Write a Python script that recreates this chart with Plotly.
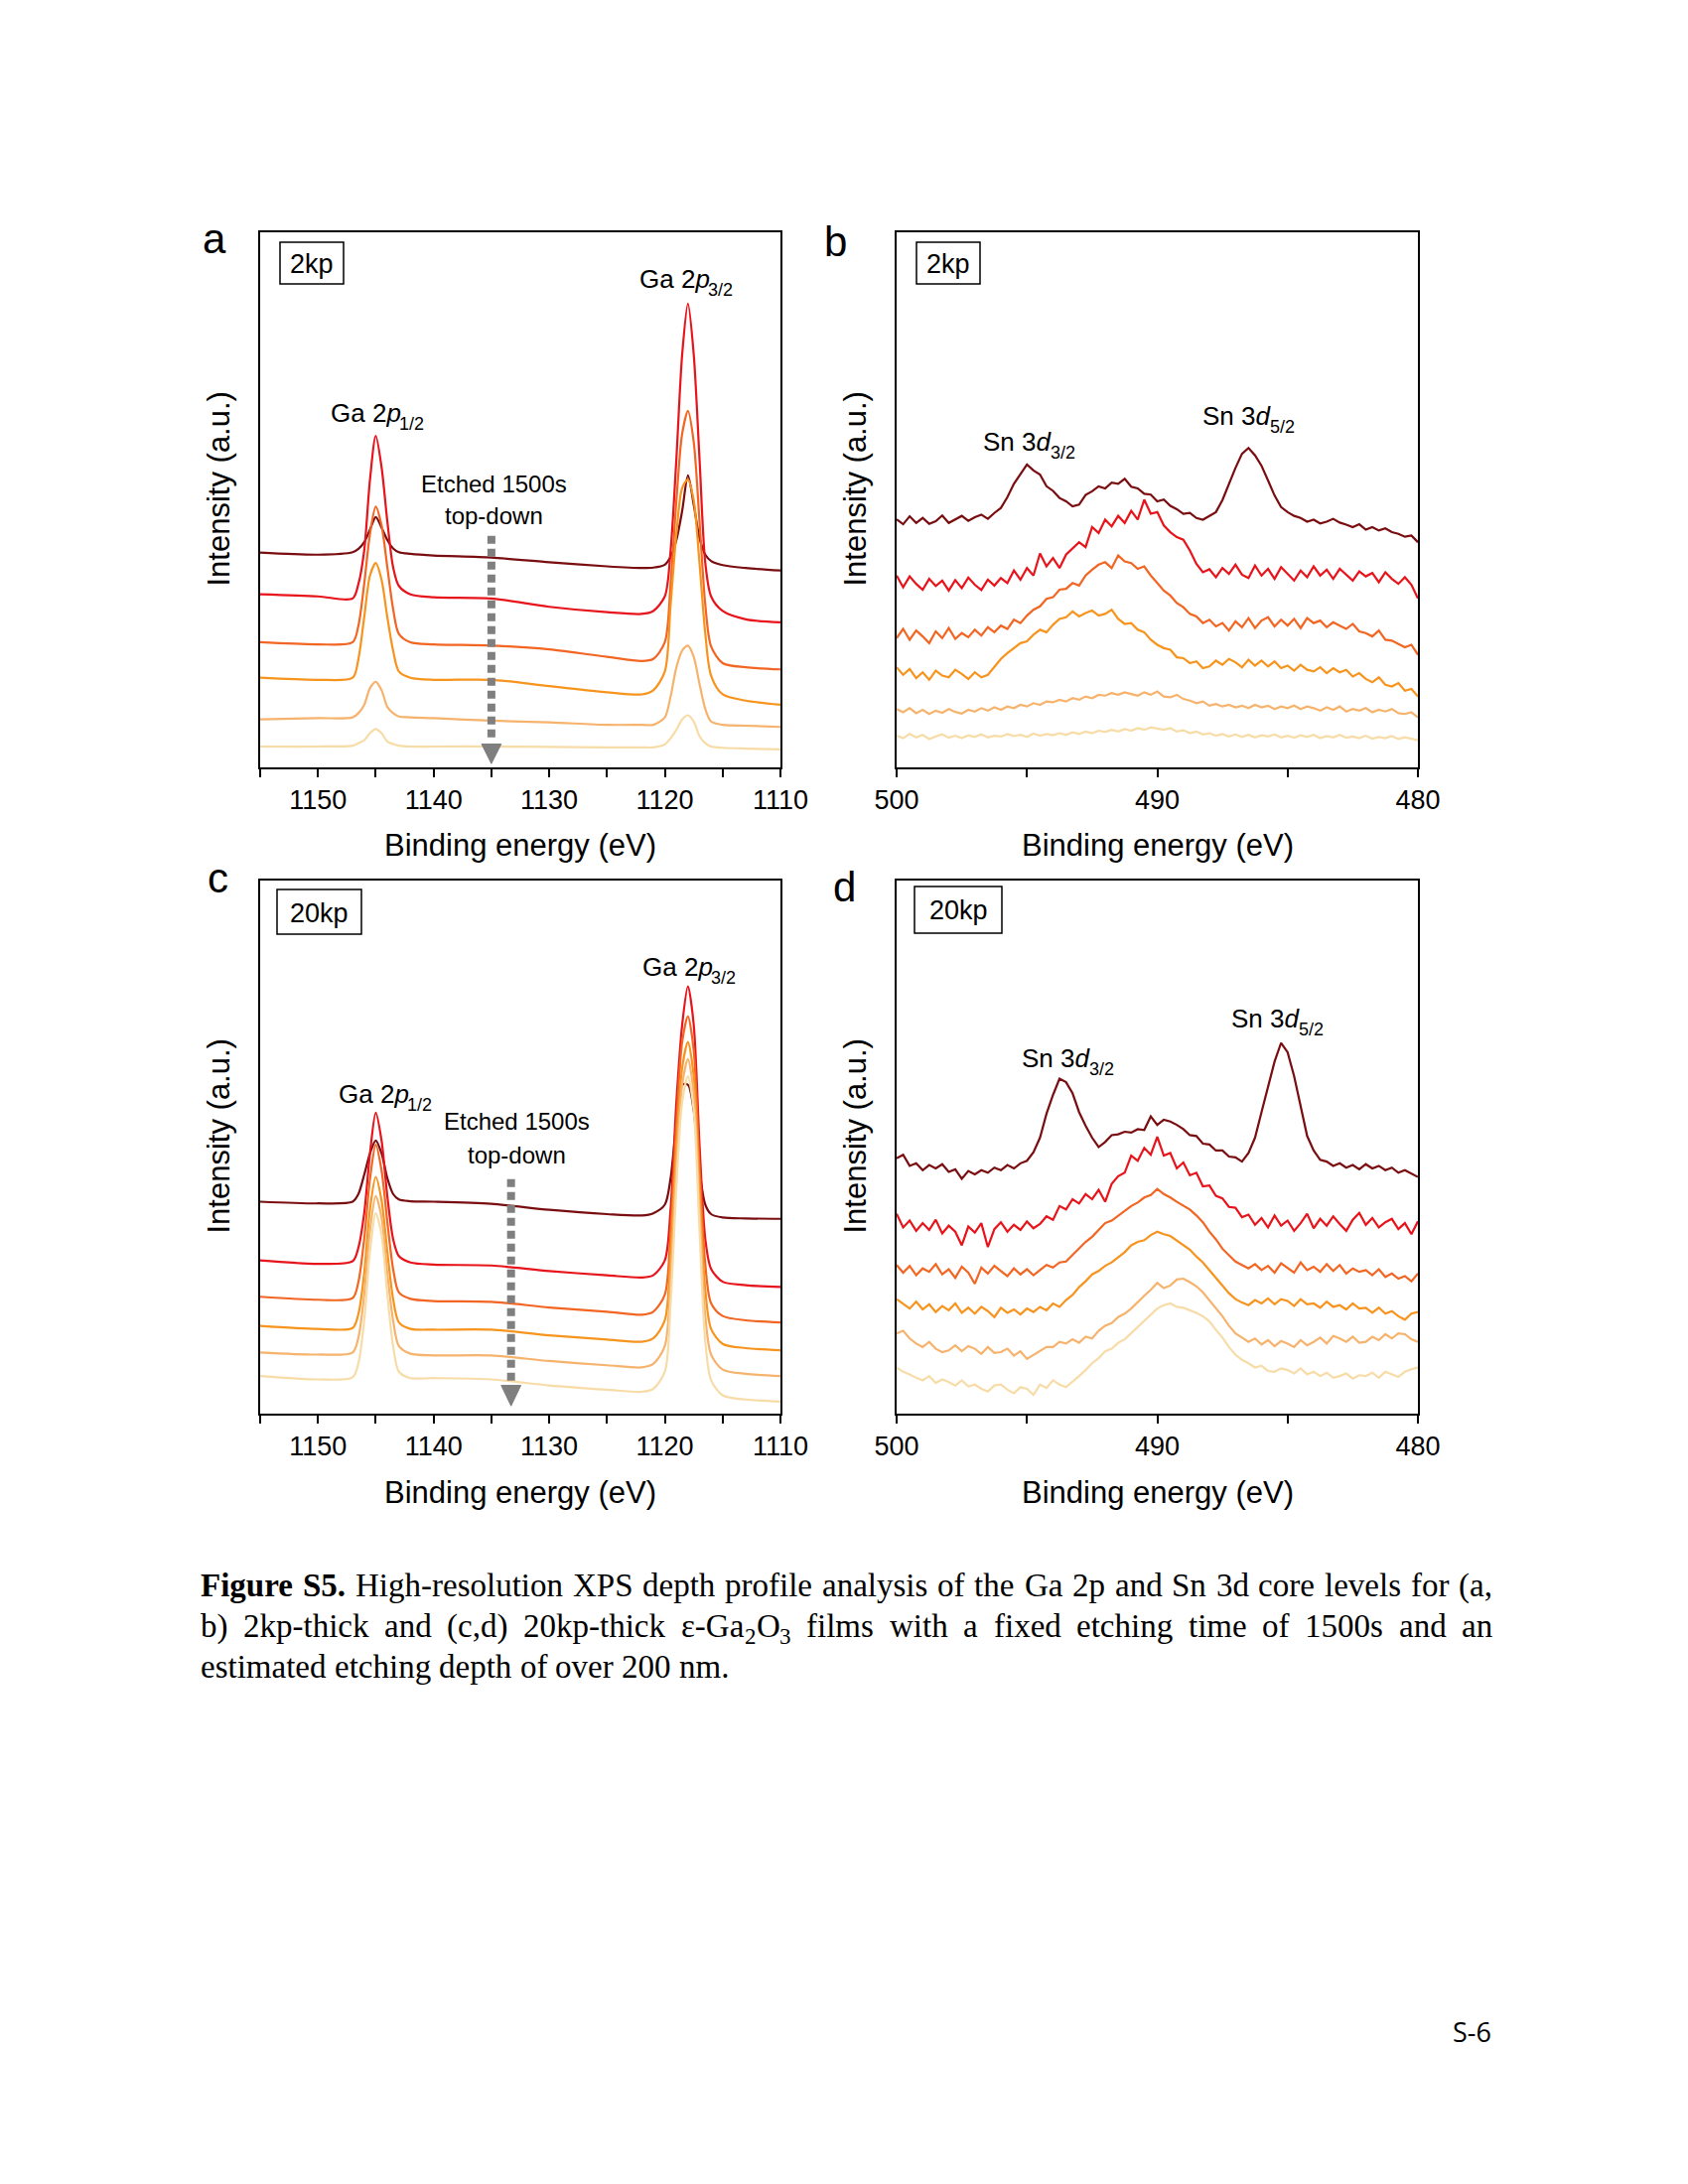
import re
import plotly.graph_objects as go

W, H = 1700, 2200


def px(x):
    return x / W


def py(y):
    return 1 - y / H


SANS = "Liberation Sans, Arial, sans-serif"
SERIF = "Liberation Serif, Times New Roman, serif"
COLORS = ["#7a0d10", "#e8141b", "#f26522", "#f7941e", "#f6b36d", "#f7dca8"]

# ---------------- Ga 2p (panels a, c) ----------------
GA_X = [1155, 1150, 1147, 1146.5, 1146, 1145.5, 1145, 1144.5, 1144, 1143.5, 1143, 1142, 1140, 1135,
        1130, 1125, 1122, 1121, 1120, 1119.5, 1119, 1118.5, 1118, 1117.5, 1117, 1116.5, 1116, 1115,
        1113, 1110]

A1 = [51.5, 51.0, 51.6, 52.4, 54.0, 57.0, 60.0, 57.5, 54.5, 52.5, 51.6, 51.2, 50.8, 50.3, 49.2,
      48.2, 47.8, 47.9, 48.6, 50.5, 54.5, 61.5, 70.0, 63.0, 55.0, 51.0, 49.5, 48.5, 47.8, 47.2]
A2 = [41.5, 41.0, 40.5, 44.0, 52.0, 69.0, 79.5, 72.0, 59.0, 48.0, 43.5, 41.5, 40.8, 40.5, 38.5,
      37.2, 36.8, 37.5, 41.0, 52.0, 74.0, 99.0, 111.2, 99.0, 74.0, 49.0, 41.0, 37.5, 35.5, 34.8]
A3 = [30.0, 29.5, 30.0, 34.0, 44.0, 56.0, 62.5, 58.0, 48.0, 38.0, 32.0, 30.0, 29.5, 29.2, 28.3,
      26.5, 25.5, 26.0, 30.0, 44.0, 64.0, 80.0, 85.5, 78.0, 59.0, 39.0, 29.0, 25.0, 24.0, 23.5]
A4 = [21.5, 21.0, 21.5, 26.0, 36.0, 46.0, 49.0, 45.0, 36.0, 28.0, 23.0, 21.5, 21.0, 21.0, 19.5,
      18.0, 17.5, 18.5, 23.0, 39.0, 56.0, 67.0, 69.0, 64.0, 49.0, 32.0, 22.0, 17.5, 16.0, 15.0]
A5 = [11.5, 11.8, 12.0, 13.0, 15.0, 19.0, 20.5, 18.5, 14.5, 13.0, 12.2, 12.0, 11.8, 11.2, 10.8,
      10.2, 10.2, 10.2, 12.0, 17.0, 24.0, 28.0, 29.2, 26.5, 20.0, 14.0, 11.0, 10.2, 10.0, 9.7]
A6 = [5.0, 5.0, 5.2, 5.8, 6.5, 8.2, 9.2, 8.2, 6.2, 5.6, 5.2, 5.0, 5.0, 5.0, 4.9, 4.8, 4.8, 4.8,
      5.5, 7.0, 9.0, 11.5, 12.5, 11.0, 7.5, 5.8, 5.0, 4.7, 4.5, 4.3]

C1 = [49.5, 49.1, 49.5, 51.3, 55.8, 60.8, 63.8, 60.8, 55.0, 51.3, 50.0, 49.6, 49.5, 49.0, 47.6,
      46.6, 46.3, 46.8, 48.8, 55.0, 67.8, 76.8, 76.8, 70.8, 56.8, 48.8, 46.6, 45.8, 45.6, 45.5]
C2 = [35.8, 35.0, 35.6, 38.8, 46.8, 60.8, 70.3, 63.8, 50.8, 40.8, 36.8, 35.3, 34.8, 34.6, 33.3,
      32.3, 31.8, 32.3, 35.8, 47.8, 72.8, 90.8, 99.8, 90.8, 62.8, 40.8, 33.8, 30.8, 30.0, 29.6]
C3 = [27.3, 26.6, 27.0, 30.8, 40.8, 54.8, 62.8, 56.8, 44.8, 33.8, 28.3, 26.8, 26.3, 26.1, 24.8,
      23.8, 23.1, 23.8, 27.8, 42.8, 67.8, 86.8, 92.8, 84.8, 57.8, 34.8, 25.8, 22.8, 21.8, 21.3]
C4 = [20.5, 19.8, 20.0, 23.3, 32.8, 47.8, 55.3, 49.8, 37.8, 26.8, 21.3, 19.8, 19.6, 19.6, 18.3,
      17.3, 16.8, 17.6, 21.8, 37.8, 62.8, 80.8, 86.8, 78.8, 52.8, 28.8, 19.8, 16.3, 15.3, 14.8]
C5 = [14.3, 13.8, 14.3, 17.8, 27.8, 42.8, 50.8, 45.8, 32.8, 21.8, 15.8, 14.0, 13.6, 13.6, 12.3,
      11.3, 10.8, 11.6, 15.8, 31.8, 57.8, 76.8, 82.8, 74.8, 47.8, 22.8, 13.8, 10.3, 9.3, 8.8]
C6 = [8.8, 8.0, 8.5, 11.8, 21.8, 37.8, 46.8, 41.8, 27.8, 15.8, 9.8, 8.3, 8.3, 8.0, 6.6, 5.6, 5.1,
      5.8, 9.8, 25.8, 52.8, 72.8, 78.8, 70.8, 42.8, 16.8, 7.8, 4.3, 3.3, 2.8]

# ---------------- Sn 3d (panels b, d) ----------------
SN_X = [500.0, 499.75, 499.5, 499.25, 499.0, 498.75, 498.5, 498.25, 498.0, 497.75, 497.5, 497.25,
        497.0, 496.75, 496.5, 496.25, 496.0, 495.75, 495.5, 495.25, 495.0, 494.75, 494.5, 494.25,
        494.0, 493.75, 493.5, 493.25, 493.0, 492.75, 492.5, 492.25, 492.0, 491.75, 491.5, 491.25,
        491.0, 490.75, 490.5, 490.25, 490.0, 489.75, 489.5, 489.25, 489.0, 488.75, 488.5, 488.25,
        488.0, 487.75, 487.5, 487.25, 487.0, 486.75, 486.5, 486.25, 486.0, 485.75, 485.5, 485.25,
        485.0, 484.75, 484.5, 484.25, 484.0, 483.75, 483.5, 483.25, 483.0, 482.75, 482.5, 482.25,
        482.0, 481.75, 481.5, 481.25, 481.0, 480.75, 480.5, 480.25, 480.0]

B1 = [59.5, 58.3, 60.2, 58.6, 59.8, 58.4, 59.0, 60.4, 58.6, 59.5, 60.3, 59.1, 60.0, 60.6, 59.6,
      61.0, 62.2, 64.8, 68.0, 70.3, 72.6, 71.2, 70.2, 67.4, 66.3, 64.6, 63.8, 62.6, 63.0, 65.3,
      66.2, 67.4, 66.9, 68.3, 68.0, 69.2, 67.3, 66.9, 65.6, 65.4, 63.8, 64.2, 62.7, 61.9, 60.8,
      61.0, 59.8, 59.4, 60.3, 61.2, 64.1, 68.2, 71.8, 75.2, 76.6, 74.8, 72.3, 68.8, 65.2, 62.4,
      61.2, 60.3, 59.8, 58.9, 59.4, 58.5, 58.9, 59.6, 58.7, 58.2, 57.6, 58.3, 57.0, 57.6, 56.8,
      57.3, 56.4, 56.0, 55.3, 55.6, 54.0]
B2 = [46.0, 43.2, 45.8, 44.0, 42.6, 45.2, 43.5, 44.8, 42.4, 44.9, 43.0, 45.5, 43.8, 42.5, 45.0,
      43.6, 45.4, 44.2, 47.2, 45.0, 47.8, 46.0, 51.3, 48.2, 50.2, 47.8, 51.0, 52.4, 54.0, 52.8,
      57.6, 56.2, 59.4, 57.8, 60.3, 58.6, 61.5, 59.4, 64.2, 60.8, 61.2, 58.0, 56.4, 55.2, 54.6,
      52.0, 48.8, 46.8, 47.5, 45.6, 47.8, 46.4, 48.6, 46.2, 45.4, 48.4, 46.0, 47.6, 45.2, 48.0,
      46.5, 44.8, 47.2, 45.6, 48.2, 46.0, 47.4, 45.2, 47.6, 46.2, 44.8, 47.0, 45.8, 46.6, 44.4,
      46.8, 45.2, 44.0, 45.6, 43.8, 40.5]
B3 = [31.0, 33.2, 30.6, 32.8, 31.4, 29.8, 32.6, 31.0, 33.4, 30.8, 32.2, 31.2, 33.0, 31.6, 33.6,
      32.4, 34.0, 33.2, 35.4, 34.6, 36.4, 37.8, 38.6, 40.4, 40.8, 42.6, 42.8, 44.2, 43.6, 46.0,
      47.4, 48.6, 49.2, 47.8, 50.8, 49.4, 49.0, 47.6, 48.2, 46.0, 44.2, 42.4, 41.2, 39.4, 38.4,
      36.8, 36.2, 34.6, 35.4, 33.8, 34.6, 32.8, 35.0, 33.6, 35.8, 33.4, 35.2, 36.0, 33.8, 35.4,
      34.0, 35.6, 33.4, 35.8, 34.6, 35.2, 33.6, 34.8, 34.0, 33.2, 34.4, 32.6, 32.2, 31.4, 32.8,
      30.6, 30.4, 29.6, 28.8, 29.4, 27.0]
B4 = [24.0, 22.2, 23.6, 21.4, 22.8, 21.0, 23.2, 22.0, 21.6, 23.4, 22.4, 21.2, 22.8, 21.6, 22.2,
      24.0, 26.0, 27.4, 28.6, 29.8, 30.2, 31.8, 33.0, 32.4, 34.2, 35.6, 36.0, 37.4, 36.2, 37.0,
      37.6, 36.4, 36.8, 37.8, 35.6, 34.4, 34.6, 33.0, 32.4, 30.6, 29.4, 28.6, 28.2, 26.4, 26.2,
      25.0, 25.4, 23.8, 24.2, 25.6, 24.6, 26.0, 25.2, 24.0, 25.8, 24.4, 25.6, 24.2, 25.4, 23.8,
      24.4, 23.2, 24.6, 23.4, 23.0, 24.0, 22.6, 23.8, 22.8, 23.4, 21.8, 22.6, 21.2, 20.4, 21.6,
      19.8, 19.4, 20.2, 18.4, 18.8, 17.0]
B5 = [14.0, 13.2, 14.2, 13.0, 13.8, 12.8, 13.6, 13.1, 14.0, 13.3, 12.9, 13.8, 13.4, 14.2, 13.6,
      14.4, 13.8, 14.6, 14.2, 15.0, 14.6, 15.4, 15.0, 15.8, 15.6, 16.2, 15.8, 16.6, 16.2, 17.0,
      16.6, 17.4, 17.2, 17.8, 17.4, 18.0, 17.6, 17.2, 18.0, 17.4, 18.2, 17.0, 16.8, 17.4, 16.4,
      16.0, 15.4, 15.8, 14.8, 15.2, 14.6, 15.0, 14.4, 14.8, 14.2, 15.0, 14.4, 14.8, 14.0, 14.6,
      14.2, 14.8, 14.0, 14.6, 14.2, 13.6, 14.4, 13.8, 14.6, 13.4, 14.0, 13.6, 14.2, 13.2, 13.8,
      13.4, 14.0, 13.0, 12.8, 13.2, 12.0]
B6 = [7.6, 7.0, 8.0, 7.2, 7.8, 6.8, 7.4, 7.9, 7.1, 7.6, 7.0, 7.7, 7.3, 7.9, 7.2, 7.6, 7.4, 8.0,
      7.5, 7.8, 7.3, 8.1, 7.6, 8.0, 7.7, 8.2, 7.8, 8.4, 8.0, 8.6, 8.2, 8.8, 8.5, 9.0, 8.6, 9.2, 8.8,
      9.4, 9.0, 9.6, 9.3, 9.0, 9.4, 8.6, 8.9, 8.2, 8.6, 7.9, 8.2, 7.6, 8.0, 7.4, 7.9, 7.3, 7.8, 7.2,
      7.7, 7.4, 7.9, 7.2, 7.6, 7.1, 7.7, 7.3, 7.8, 7.0, 7.5, 7.2, 7.8, 7.1, 7.4, 7.0, 7.6, 6.9, 7.3,
      7.0, 7.5, 6.8, 7.2, 6.9, 6.5]

D1 = [59.8, 60.6, 58.0, 58.6, 57.0, 58.2, 57.4, 58.4, 56.6, 57.2, 55.0, 56.8, 56.0, 57.0, 56.4,
      57.6, 57.0, 58.2, 57.4, 58.6, 59.2, 61.2, 64.6, 70.2, 74.6, 78.4, 77.6, 75.0, 70.6, 67.4,
      64.6, 62.4, 63.6, 65.2, 65.4, 66.0, 65.8, 66.6, 66.4, 69.6, 67.6, 68.8, 68.4, 67.6, 66.6,
      65.2, 65.0, 63.2, 63.0, 61.6, 61.6, 60.2, 60.0, 59.0, 61.0, 64.6, 70.6, 76.6, 82.4, 86.8,
      84.6, 79.0, 71.6, 65.0, 61.6, 59.4, 59.0, 58.0, 58.6, 57.6, 58.2, 57.2, 58.4, 57.4, 58.0,
      57.0, 57.6, 56.4, 57.0, 56.2, 55.4]
D2 = [46.8, 43.6, 45.2, 42.8, 44.6, 43.0, 45.4, 42.2, 44.0, 42.6, 39.4, 43.8, 42.4, 44.6, 39.0,
      43.2, 44.8, 42.6, 44.2, 43.0, 45.0, 43.4, 44.4, 46.2, 45.4, 48.6, 47.8, 50.2, 49.2, 51.4,
      50.2, 52.4, 49.6, 53.8, 55.6, 56.4, 60.4, 59.2, 62.2, 60.6, 64.8, 60.4, 61.0, 57.4, 58.8,
      55.8, 56.4, 53.2, 53.4, 51.0, 50.4, 48.4, 48.2, 46.0, 46.6, 44.2, 45.8, 43.6, 46.4, 44.0,
      45.2, 42.8, 44.6, 46.8, 43.4, 45.6, 44.0, 46.2, 44.4, 42.8, 45.4, 47.0, 44.2, 45.8, 43.6,
      44.8, 45.6, 43.2, 44.6, 42.0, 45.0]
D3 = [34.8, 33.0, 34.6, 32.4, 34.0, 33.2, 35.0, 32.6, 33.8, 31.8, 34.4, 33.0, 30.4, 34.2, 32.8,
      34.6, 33.4, 32.2, 34.0, 32.6, 33.8, 32.4, 33.6, 34.8, 34.2, 35.4, 35.6, 37.2, 38.6, 40.2,
      41.4, 43.0, 44.6, 45.2, 46.4, 47.6, 48.6, 49.4, 50.6, 51.2, 52.6, 51.4, 50.6, 49.6, 48.6,
      47.8, 46.4, 44.8, 42.6, 40.8, 38.6, 37.2, 35.6, 34.8, 34.0, 35.0, 33.6, 34.6, 33.0, 35.2,
      34.2, 33.0, 35.4, 33.6, 34.4, 33.2, 35.0, 33.4, 34.8, 32.8, 34.0, 33.2, 33.6, 32.4, 33.8,
      32.0, 32.8, 31.6, 32.2, 31.0, 32.8]
D4 = [26.8, 25.8, 24.6, 26.2, 24.4, 25.6, 23.8, 25.2, 24.2, 25.8, 23.6, 24.8, 23.4, 25.0, 24.0,
      22.6, 24.8, 23.6, 24.4, 23.2, 24.6, 23.8, 25.0, 24.2, 25.8, 25.0, 26.6, 27.8, 29.6, 31.0,
      32.6, 33.4, 34.6, 35.4, 36.6, 37.8, 39.4, 40.2, 40.6, 41.8, 42.6, 42.0, 41.6, 40.6, 39.6,
      38.4, 36.8, 35.4, 33.6, 31.8, 29.8, 28.2, 26.8, 26.0, 25.4, 26.6, 25.8, 27.0, 25.6, 26.8,
      26.4, 25.2, 26.8, 25.6, 25.8, 24.8, 26.2, 25.0, 25.4, 24.4, 25.8, 24.6, 24.8, 23.6, 24.8,
      23.4, 24.0, 22.8, 22.0, 23.4, 23.8]
D5 = [18.8, 19.4, 17.6, 16.4, 15.6, 16.8, 15.2, 14.4, 14.8, 16.0, 14.6, 15.8, 15.2, 14.0, 15.6,
      14.2, 14.4, 15.2, 13.6, 14.6, 12.8, 13.8, 14.6, 15.6, 15.6, 16.8, 16.4, 17.4, 16.6, 18.0,
      17.6, 19.4, 20.6, 21.2, 22.6, 23.4, 24.6, 26.2, 27.6, 29.0, 30.6, 29.4, 30.0, 31.4, 31.6,
      30.8, 29.8, 28.4, 26.6, 24.8, 22.8, 20.6, 18.8, 17.8, 16.8, 17.6, 16.2, 17.2, 15.8, 17.0,
      16.4, 15.6, 17.2, 16.0, 16.8, 17.8, 16.4, 18.2, 17.6, 16.8, 18.0, 16.6, 16.8, 18.0, 17.2,
      18.6, 17.6, 18.8, 18.6, 17.4, 16.8]
D6 = [10.8, 9.8, 9.2, 8.4, 7.8, 8.8, 7.2, 8.0, 7.4, 6.6, 7.8, 6.4, 6.8, 5.8, 5.2, 6.6, 6.8, 5.6,
      4.8, 6.2, 5.8, 4.4, 6.8, 6.0, 7.8, 6.8, 6.2, 7.4, 8.8, 10.2, 11.8, 13.0, 14.6, 15.2, 16.6,
      17.4, 18.8, 20.4, 21.6, 23.0, 24.6, 25.4, 25.8, 25.0, 24.8, 24.2, 23.6, 22.8, 21.6, 19.6,
      17.8, 15.6, 13.8, 12.6, 11.8, 10.8, 11.2, 10.0, 9.8, 10.6, 10.2, 9.4, 10.6, 9.2, 9.8, 8.8,
      9.6, 8.4, 8.8, 9.4, 8.2, 9.0, 8.8, 9.6, 8.4, 9.8, 9.2, 8.6, 9.8, 10.4, 10.8]

GA_TICKS = [1150, 1140, 1130, 1120, 1110]
GA_MINOR = [1155, 1145, 1135, 1125, 1115]
SN_TICKS = [500, 490, 480]
SN_MINOR = [495, 485]

# plot boxes in page pixels (left, right, top, bottom)
BOX = {
    "a": (262, 786, 234, 773),
    "b": (903, 1428, 234, 773),
    "c": (262, 786, 887, 1424),
    "d": (903, 1428, 887, 1424),
}

PANELS = [
    ("a", "x", "y", GA_X, [A1, A2, A3, A4, A5, A6], [1155, 1110], [0, 128.3], GA_TICKS, GA_MINOR, "spline"),
    ("b", "x2", "y2", SN_X, [B1, B2, B3, B4, B5, B6], [500, 480], [0, 128.3], SN_TICKS, SN_MINOR, "linear"),
    ("c", "x3", "y3", GA_X, [C1, C2, C3, C4, C5, C6], [1155, 1110], [0, 124.5], GA_TICKS, GA_MINOR, "spline"),
    ("d", "x4", "y4", SN_X, [D1, D2, D3, D4, D5, D6], [500, 480], [0, 124.8], SN_TICKS, SN_MINOR, "linear"),
]

fig = go.Figure()
layout_axes = {}
for key, xa, ya, xs, curves, xr, yr, tv, mv, shape in PANELS:
    for color, ys in zip(COLORS, curves):
        line = dict(color=color, width=2.2, shape=shape)
        if shape == "spline":
            line["smoothing"] = 0.8
        fig.add_trace(go.Scatter(x=xs, y=ys, mode="lines", line=line, xaxis=xa, yaxis=ya,
                                 showlegend=False, hoverinfo="skip"))
    l, r, t, b = BOX[key]
    xname = "xaxis" if xa == "x" else "xaxis" + xa[1:]
    yname = "yaxis" if ya == "y" else "yaxis" + ya[1:]
    layout_axes[xname] = dict(
        domain=[px(l), px(r)], range=xr, anchor=ya, tickmode="array", tickvals=tv,
        ticktext=[str(v) for v in tv], ticks="outside", ticklen=8, tickwidth=2, tickcolor="black",
        minor=dict(tickvals=mv, ticks="outside", ticklen=8, tickwidth=2, tickcolor="black"),
        showline=True, linewidth=2, linecolor="black", mirror=True, showgrid=False,
        zeroline=False, automargin=False, tickfont=dict(family=SANS, size=27, color="black"),
    )
    layout_axes[yname] = dict(
        domain=[py(b), py(t)], range=yr, anchor=xa, showticklabels=False, ticks="",
        showline=True, linewidth=2, linecolor="black", mirror=True, showgrid=False,
        zeroline=False, automargin=False,
    )

annotations = []
shapes = []


def txt(x, y, text, size, family=SANS, xanchor="center", angle=0):
    annotations.append(dict(x=px(x), y=py(y), xref="paper", yref="paper", text=text,
                            showarrow=False, xanchor=xanchor, yanchor="middle", textangle=angle,
                            borderpad=0, font=dict(family=family, size=size, color="black")))


# Arial / Liberation Sans advance widths (1/1000 em)
ARIAL = {'G': 778, 'a': 556, ' ': 278, 'S': 667, 'n': 556, 'p': 556, 'd': 556, '/': 278}
for dgt in "0123456789":
    ARIAL[dgt] = 556


def arial_w(s, size):
    return sum(ARIAL.get(ch, 556) for ch in re.sub(r"<[^>]+>", "", s)) / 1000 * size


def peak_label(cx, cy, main, sub, size=26):
    sub_size = round(size * 0.7)
    mw, sw = arial_w(main, size), arial_w(sub, sub_size)
    split = cx - (mw + sw) / 2 + mw
    txt(split, cy, main, size, xanchor="right")
    txt(split - 4, cy + 0.42 * size, sub, sub_size, xanchor="left")


# panel letters
txt(216, 241, "a", 42)
txt(841, 243, "b", 42)
txt(219, 884, "c", 42)
txt(850, 893, "d", 42)

# axis titles
for key in "abcd":
    l, r, t, b = BOX[key]
    txt((l + r) / 2, b + 79, "Binding energy (eV)", 31)
    txt(l - 42, (t + b) / 2 - 11, "Intensity (a.u.)", 31, angle=-90)

# sample boxes
for key, label, (x0, x1, y0, y1) in [("a", "2kp", (282, 346, 244, 286)),
                                       ("b", "2kp", (923, 987, 244, 286)),
                                       ("c", "20kp", (279, 364, 896, 941)),
                                       ("d", "20kp", (921, 1009, 893, 940))]:
    shapes.append(dict(type="rect", xref="paper", yref="paper", x0=px(x0), x1=px(x1),
                       y0=py(y1), y1=py(y0), line=dict(color="black", width=1.5)))
    txt((x0 + x1) / 2, (y0 + y1) / 2 + 1, label, 27)

# peak labels
peak_label(693, 281, "Ga 2<i>p</i>", "3/2")
peak_label(382, 416, "Ga 2<i>p</i>", "1/2")
peak_label(1040, 445, "Sn 3<i>d</i>", "3/2")
peak_label(1261, 419, "Sn 3<i>d</i>", "5/2")
peak_label(696, 974, "Ga 2<i>p</i>", "3/2")
peak_label(390, 1102, "Ga 2<i>p</i>", "1/2")
peak_label(1079, 1066, "Sn 3<i>d</i>", "3/2")
peak_label(1290, 1026, "Sn 3<i>d</i>", "5/2")

# etching annotation
txt(497, 488, "Etched 1500s", 24)
txt(497, 520, "top-down", 24)
txt(520, 1129, "Etched 1500s", 24)
txt(520, 1163, "top-down", 24)

# dashed arrows (data coordinates of panels a and c)
ARROW_A = dict(x=1135.0, top=55.5, end=6.0, head_top=5.6, tip=0.9, half=0.85)
ARROW_C = dict(x=1133.3, top=54.8, end=7.0, head_top=6.6, tip=1.8, half=0.85)
for (xr_, yr_), ar in [(("x", "y"), ARROW_A), (("x3", "y3"), ARROW_C)]:
    shapes.append(dict(type="line", xref=xr_, yref=yr_, x0=ar["x"], x1=ar["x"], y0=ar["top"],
                       y1=ar["end"], line=dict(color="#7f7f7f", width=8, dash="8px,5px")))
    path = "M {a},{t} L {b},{t} L {c},{p} Z".format(a=ar["x"] + ar["half"], b=ar["x"] - ar["half"],
                                                    c=ar["x"], t=ar["head_top"], p=ar["tip"])
    shapes.append(dict(type="path", xref=xr_, yref=yr_, path=path, fillcolor="#7f7f7f",
                       line=dict(color="#7f7f7f", width=1)))

# ---------------- caption (justified) ----------------
TIMES = {' ': 250, 'a': 444, 'b': 500, 'c': 444, 'd': 500, 'e': 444, 'f': 333, 'g': 500, 'h': 500,
         'i': 278, 'j': 278, 'k': 500, 'l': 278, 'm': 778, 'n': 500, 'o': 500, 'p': 500, 'q': 500,
         'r': 333, 's': 389, 't': 278, 'u': 500, 'v': 500, 'w': 722, 'x': 500, 'y': 500, 'z': 444,
         'A': 722, 'B': 667, 'C': 667, 'D': 722, 'E': 611, 'F': 556, 'G': 722, 'H': 722, 'I': 333,
         'J': 389, 'K': 722, 'L': 611, 'M': 889, 'N': 722, 'O': 722, 'P': 556, 'Q': 722, 'R': 667,
         'S': 556, 'T': 611, 'U': 722, 'V': 722, 'W': 944, 'X': 722, 'Y': 722, 'Z': 611,
         ',': 250, '.': 250, '-': 333, '(': 333, ')': 333, 'ε': 439}
for dgt in "0123456789":
    TIMES[dgt] = 500
TIMES_B = dict(TIMES)
TIMES_B.update({'F': 611, 'u': 556, 'r': 444, 'S': 556})

CAP_FS = 33
CAP_SUB = 23


def piece_width(text, size):
    bold = text.startswith("<b>")
    table = TIMES_B if bold else TIMES
    plain = re.sub(r"<[^>]+>", "", text)
    return sum(table.get(ch, 500) for ch in plain) / 1000 * size


def split_word(w):
    # pieces starting with "_" are subscripts
    return [(p[1:], True) if p.startswith("_") else (p, False) for p in w.split("|")]


def word_width(w):
    return sum(piece_width(t, CAP_SUB if s else CAP_FS) for t, s in split_word(w))


CAP_L, CAP_R = 201, 1502
CAP_LINES = [
    (1597, True, ["<b>Figure</b>", "<b>S5.</b>", "High-resolution", "XPS", "depth", "profile",
                  "analysis", "of", "the", "Ga", "2p", "and", "Sn", "3d", "core", "levels", "for", "(a,"]),
    (1638, True, ["b)", "2kp-thick", "and", "(c,d)", "20kp-thick", "ε-Ga|_2|O|_3",
                  "films", "with", "a", "fixed", "etching", "time", "of", "1500s", "and", "an"]),
    (1679, False, ["estimated", "etching", "depth", "of", "over", "200", "nm."]),
]
for yline, justify, words in CAP_LINES:
    widths = [word_width(w) for w in words]
    if justify:
        gap = (CAP_R - CAP_L - sum(widths)) / (len(words) - 1)
    else:
        gap = 0.25 * CAP_FS
    xcur = CAP_L
    for w, wd in zip(words, widths):
        xp = xcur
        for t, is_sub in split_word(w):
            size = CAP_SUB if is_sub else CAP_FS
            annotations.append(dict(x=px(xp), y=py(yline + (10 if is_sub else 0)), xref="paper",
                                    yref="paper", text=t, showarrow=False, xanchor="left",
                                    yanchor="middle", borderpad=0,
                                    font=dict(family=SERIF, size=size, color="black")))
            xp += piece_width(t, size)
        xcur += wd + gap

# page number
annotations.append(dict(x=px(1503), y=py(2046), xref="paper", yref="paper", text="S-6",
                        showarrow=False, xanchor="right", yanchor="middle", borderpad=0,
                        font=dict(family="Open Sans, sans-serif", size=27, color="black")))

fig.update_layout(
    template="none",
    width=W, height=H, margin=dict(l=0, r=0, t=0, b=0, pad=0, autoexpand=False),
    paper_bgcolor="white", plot_bgcolor="white", showlegend=False,
    annotations=annotations, shapes=shapes,
    **layout_axes,
)
fig.write_html("out.html", config={"displayModeBar": False},
               post_script="document.body.style.margin='0px';document.body.style.overflow='hidden';")
